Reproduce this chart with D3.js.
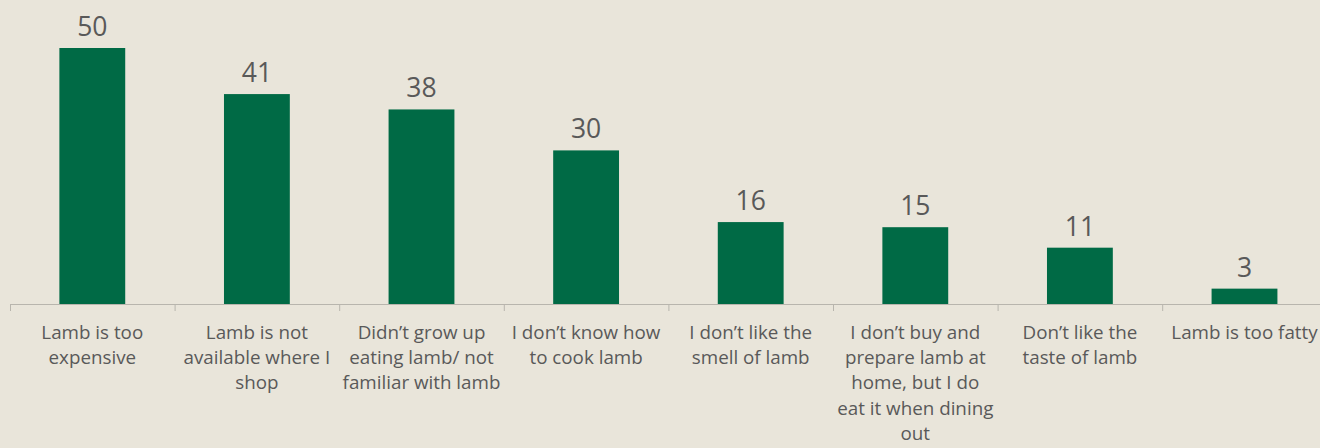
<!DOCTYPE html>
<html>
<head>
<meta charset="utf-8">
<script src="https://cdn.jsdelivr.net/npm/d3@7"></script>
<style>
  html, body { margin: 0; padding: 0; background: #e9e5da; overflow: hidden; }
  svg { display: block; }
</style>
</head>
<body>
<div id="chart"></div>
<script>
// reasons for not eating lamb — simple column chart

// line breaks kept as in the original chart labels
const categories = [
  'Lamb is too\nexpensive',
  'Lamb is not\navailable where I\nshop',
  'Didn’t grow up\neating lamb/ not\nfamiliar with lamb',
  'I don’t know how\nto cook lamb',
  'I don’t like the\nsmell of lamb',
  'I don’t buy and\nprepare lamb at\nhome, but I do\neat it when dining\nout',
  'Don’t like the\ntaste of lamb',
  'Lamb is too fatty'
];
const values = [50, 41, 38, 30, 16, 15, 11, 3];

const CONFIG = {
  WIDTH: 1320,
  HEIGHT: 448,
  BAR_COLOR: '#006a45',
  AXIS_COLOR: '#b8b5ad',
  TEXT_COLOR: '#595959',
  FONT: '"Open Sans", "Noto Sans", sans-serif',
  LINE_HEIGHT: 25.2
};

const svg = d3.select('#chart').append('svg')
  .attr('width', CONFIG.WIDTH)
  .attr('height', CONFIG.HEIGHT);

// x: bands start at 10 and run past the right edge (last label is clipped)
const x = d3.scaleBand()
  .domain(categories)
  .range([10, 10 + 8 * 164.6])
  .paddingInner(0.6)
  .paddingOuter(0.3);

const y = d3.scaleLinear()
  .domain([0, 50])
  .range([304, 48]);

// bars
svg.append('g').selectAll('rect')
  .data(categories)
  .join('rect')
  .attr('x', d => x(d))
  .attr('y', (d, i) => y(values[i]))
  .attr('width', x.bandwidth())
  .attr('height', (d, i) => y(0) - y(values[i]))
  .attr('fill', CONFIG.BAR_COLOR);

// value labels
svg.append('g').selectAll('text')
  .data(categories)
  .join('text')
  .attr('x', d => x(d) + x.bandwidth() / 2)
  .attr('y', (d, i) => y(values[i]) - 12)
  .attr('text-anchor', 'middle')
  .attr('font-family', CONFIG.FONT)
  .attr('font-size', 26.5)
  .attr('fill', CONFIG.TEXT_COLOR)
  .text((d, i) => values[i]);

// axis line + tick marks between categories
const step = x.step();
const gAxis = svg.append('g');
gAxis.append('line')
  .attr('x1', 10).attr('x2', CONFIG.WIDTH)
  .attr('y1', y(0) + 0.5).attr('y2', y(0) + 0.5)
  .attr('stroke', CONFIG.AXIS_COLOR);
gAxis.selectAll('line.tick')
  .data(d3.range(categories.length + 1))
  .join('line')
  .attr('class', 'tick')
  .attr('x1', i => 10 + i * step + 0.5)
  .attr('x2', i => 10 + i * step + 0.5)
  .attr('y1', y(0))
  .attr('y2', y(0) + 7)
  .attr('stroke', CONFIG.AXIS_COLOR);

// category labels, one tspan per line
svg.append('g').selectAll('text')
  .data(categories)
  .join('text')
  .attr('text-anchor', 'middle')
  .attr('font-family', CONFIG.FONT)
  .attr('font-size', 18.8)
  .attr('fill', CONFIG.TEXT_COLOR)
  .each(function(d) {
    const cx = x(d) + x.bandwidth() / 2;
    d3.select(this).selectAll('tspan')
      .data(d.split('\n'))
      .join('tspan')
      .attr('x', cx)
      .attr('y', (line, j) => 339 + j * CONFIG.LINE_HEIGHT)
      .text(line => line);
  });
</script>
</body>
</html>
